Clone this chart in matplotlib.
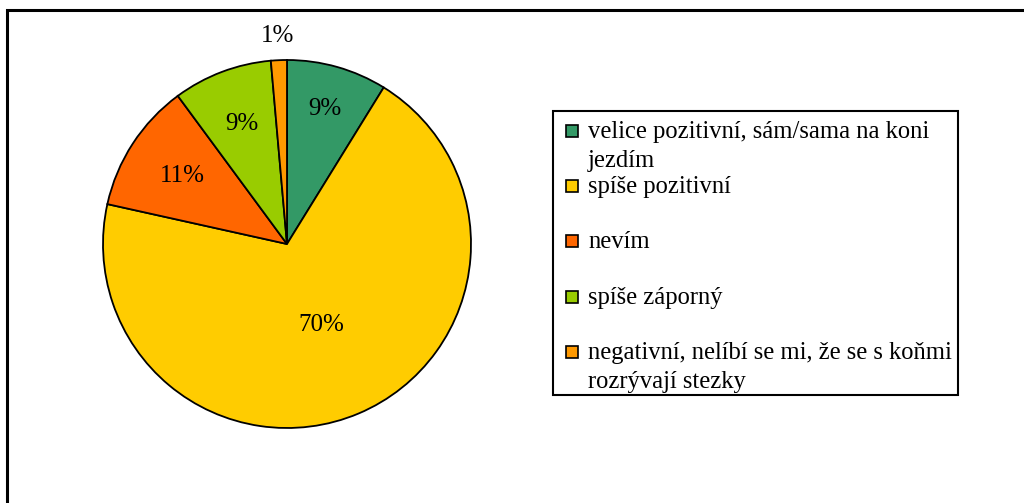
import numpy as np
import matplotlib.pyplot as plt
from matplotlib.patches import Rectangle

# data
categories = ['velice pozitivní, sám/sama na koni\njezdím',
              'spíše pozitivní',
              'nevím',
              'spíše záporný',
              'negativní, nelíbí se mi, že se s koňmi\nrozrývají stezky']
shares = [8.8, 69.6, 11.4, 8.7, 1.4]
colors = ['#339966', '#FFCC00', '#FF6600', '#99CC00', '#FF9900']
label_r = [0.76, 0.48, 0.68, 0.70, 1.13]   # where each % label sits (fraction of radius)

plt.rcParams['font.family'] = ['Liberation Serif', 'DejaVu Serif']

W, H = 1024, 503
fig = plt.figure(figsize=(W / 100, H / 100), dpi=100)

# outer chart frame (only top/left visible in the original)
fig.patches.append(Rectangle((7 / W, -0.1), 1.2, 1 - 10 / H + 0.1, transform=fig.transFigure,
                             fill=False, edgecolor='black', linewidth=2.2))

# pie
cx, cy, r = 287, 244, 184
ax = fig.add_axes([(cx - r) / W, (H - cy - r) / H, 2 * r / W, 2 * r / H])
wedges, _ = ax.pie(shares, colors=colors, startangle=90, counterclock=False,
                   wedgeprops=dict(edgecolor='black', linewidth=1.3))
ax.set_xlim(-1, 1)
ax.set_ylim(-1, 1)

for w, s, lr in zip(wedges, shares, label_r):
    ang = np.deg2rad((w.theta1 + w.theta2) / 2)
    ax.text(lr * np.cos(ang), lr * np.sin(ang), '%.0f%%' % s,
            ha='center', va='center', fontsize=18)

# legend drawn by hand to get Excel-like layout
lx0, ly0, lx1, ly1 = 553, 111, 958, 395
fig.patches.append(Rectangle((lx0 / W, 1 - ly1 / H), (lx1 - lx0) / W, (ly1 - ly0) / H,
                             transform=fig.transFigure, fill=False,
                             edgecolor='black', linewidth=1.5))
row0, step = 131, 55.2
for i, (lab, c) in enumerate(zip(categories, colors)):
    yc = row0 + i * step
    fig.patches.append(Rectangle((566 / W, 1 - (yc + 6) / H), 12 / W, 12 / H,
                                 transform=fig.transFigure, facecolor=c,
                                 edgecolor='black', linewidth=1.2))
    fig.text(588 / W, 1 - (yc - 10) / H, lab, ha='left', va='top',
             fontsize=17.7, linespacing=1.4)

fig.savefig('out.png', dpi=100)
